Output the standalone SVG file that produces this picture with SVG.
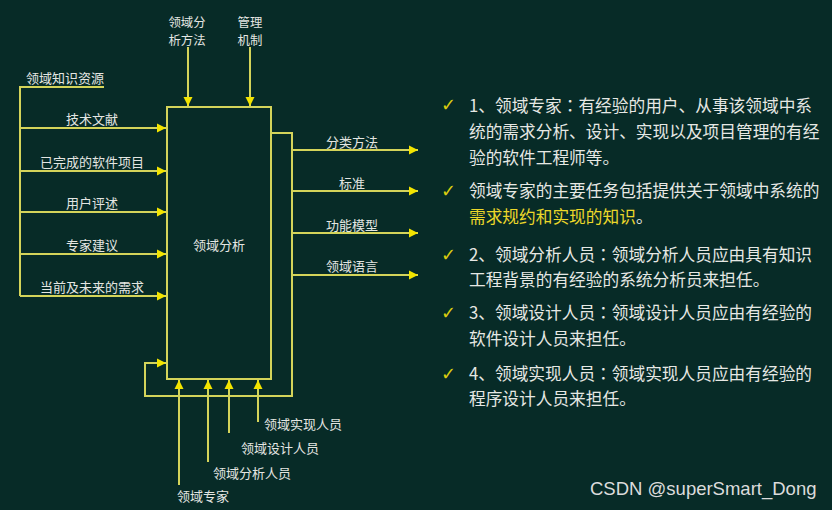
<svg xmlns="http://www.w3.org/2000/svg" width="832" height="510" viewBox="0 0 832 510">
<style>
.lbl{font-family:"Noto Sans CJK SC","Noto Sans",sans-serif;font-size:13px;fill:#e4e6e2;dominant-baseline:central}
.sm{font-size:12.4px}
.mid{text-anchor:middle}
.txt{font-family:"Noto Sans CJK SC","Noto Sans",sans-serif;font-size:16.7px;fill:#e6e8e4;dominant-baseline:central}
.cl{font-family:"Noto Sans CJK TC","Noto Sans CJK SC",sans-serif}
.hl{fill:#ecd82a}
.chk{font-family:"DejaVu Sans",sans-serif;font-size:18px;font-weight:bold;fill:#d9cc10;dominant-baseline:central}
.ln{fill:none;stroke:#d4d45a;stroke-width:2}
.box{fill:none;stroke:#d4d45a;stroke-width:2}
.wm{font-family:"Liberation Sans",Arial,sans-serif;font-size:18.5px;fill:#dcdcdc;dominant-baseline:central}
</style>
<defs>
<marker id="ah" viewBox="0 0 10 10" refX="10" refY="5" markerWidth="9" markerHeight="10" markerUnits="userSpaceOnUse" orient="auto">
<path d="M0,0 L10,5 L0,10 z" fill="#f2e400"/>
</marker>
</defs>
<rect width="832" height="510" fill="#072b27"/>

<g id="box-analysis">
<rect class="box" x="167" y="107" width="104" height="272"/>
<text class="lbl mid" x="219" y="244">领域分析</text>
</g>

<g id="connectors">
<path class="ln" d="M188 47 V106" marker-end="url(#ah)"/>
<path class="ln" d="M250 47 V106" marker-end="url(#ah)"/>
<path class="ln" d="M104 87 H20 V296"/>
<path class="ln" d="M20 128 H166" marker-end="url(#ah)"/>
<path class="ln" d="M20 171 H166" marker-end="url(#ah)"/>
<path class="ln" d="M20 212 H166" marker-end="url(#ah)"/>
<path class="ln" d="M20 254 H166" marker-end="url(#ah)"/>
<path class="ln" d="M20 296 H166" marker-end="url(#ah)"/>
<path class="ln" d="M271 133 H292 V396 H145 V363 H166" marker-end="url(#ah)"/>
<path class="ln" d="M292 150 H418" marker-end="url(#ah)"/>
<path class="ln" d="M292 191 H418" marker-end="url(#ah)"/>
<path class="ln" d="M292 233 H418" marker-end="url(#ah)"/>
<path class="ln" d="M292 275 H418" marker-end="url(#ah)"/>
<path class="ln" d="M179 485 V380" marker-end="url(#ah)"/>
<path class="ln" d="M208 462 V380" marker-end="url(#ah)"/>
<path class="ln" d="M229 433 V380" marker-end="url(#ah)"/>
<path class="ln" d="M258 422 V380" marker-end="url(#ah)"/>
</g>

<g id="in-labels">
<text class="lbl" x="26" y="77">领域知识资源</text>
<text class="lbl mid" x="92" y="118">技术文献</text>
<text class="lbl mid" x="92" y="161">已完成的软件项目</text>
<text class="lbl mid" x="92" y="202">用户评述</text>
<text class="lbl mid" x="92" y="244">专家建议</text>
<text class="lbl mid" x="92" y="286">当前及未来的需求</text>
</g>
<g id="ctrl-labels">
<text class="lbl sm mid" x="187" y="21.5">领域分</text>
<text class="lbl sm mid" x="187" y="39.7">析方法</text>
<text class="lbl sm mid" x="250" y="21.5">管理</text>
<text class="lbl sm mid" x="250" y="39.7">机制</text>
</g>
<g id="out-labels">
<text class="lbl mid" x="352" y="141">分类方法</text>
<text class="lbl mid" x="352" y="182">标准</text>
<text class="lbl mid" x="352" y="224">功能模型</text>
<text class="lbl mid" x="352" y="265">领域语言</text>
</g>
<g id="mech-labels">
<text class="lbl" x="264" y="423">领域实现人员</text>
<text class="lbl" x="241" y="447">领域设计人员</text>
<text class="lbl" x="213" y="472">领域分析人员</text>
<text class="lbl" x="177" y="495">领域专家</text>
</g>

<g id="notes">
<text class="chk" x="441" y="104">✓</text>
<text class="chk" x="441" y="190">✓</text>
<text class="chk" x="441" y="254">✓</text>
<text class="chk" x="441" y="312">✓</text>
<text class="chk" x="441" y="373">✓</text>
<text class="txt" x="469" y="105">1、领域专家<tspan class="cl">：</tspan>有经验的用户、从事该领域中系</text>
<text class="txt" x="469" y="131">统的需求分析、设计、实现以及项目管理的有经</text>
<text class="txt" x="469" y="157">验的软件工程师等。</text>
<text class="txt" x="469" y="190">领域专家的主要任务包括提供关于领域中系统的</text>
<text class="txt" x="469" y="216"><tspan class="hl">需求规约和实现的知识</tspan>。</text>
<text class="txt" x="469" y="254">2、领域分析人员<tspan class="cl">：</tspan>领域分析人员应由具有知识</text>
<text class="txt" x="469" y="279">工程背景的有经验的系统分析员来担任。</text>
<text class="txt" x="469" y="312">3、领域设计人员<tspan class="cl">：</tspan>领域设计人员应由有经验的</text>
<text class="txt" x="469" y="338">软件设计人员来担任。</text>
<text class="txt" x="469" y="373">4、领域实现人员<tspan class="cl">：</tspan>领域实现人员应由有经验的</text>
<text class="txt" x="469" y="398">程序设计人员来担任。</text>
</g>

<text class="wm" x="590" y="488">CSDN @superSmart_Dong</text>
</svg>
